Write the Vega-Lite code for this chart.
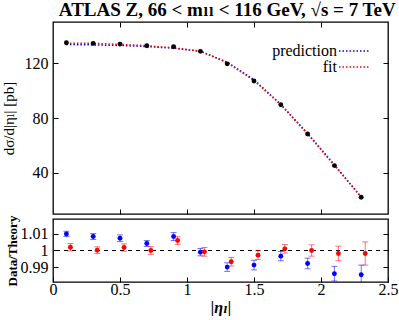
{
  "$schema": "https://vega.github.io/schema/vega-lite/v6.json",
  "padding": {"left": 0, "top": 0, "right": 0, "bottom": 0},
  "background": "white",
  "title": {"text": "ATLAS Z, 66 < mₗₗ < 116 GeV, √s = 7 TeV", "font": "Liberation Serif, DejaVu Serif, serif", "fontWeight": "bold", "fontSize": 19, "color": "black", "anchor": "end", "dx": -3, "offset": 1},
  "spacing": 5,
  "bounds": "flush",
  "resolve": {"scale": {"color": "independent"}, "legend": {"color": "independent"}},
  "config": {
    "view": {"stroke": "black", "strokeWidth": 1.3},
    "axis": {"grid": false, "domain": false, "tickColor": "black", "tickSize": -5, "tickWidth": 1, "labelFont": "Liberation Serif", "labelFontSize": 16, "labelColor": "black", "titleFont": "Liberation Serif", "titleColor": "black", "labelPadding": 10, "minExtent": 0, "labelFlush": false}
  },
  "datasets": {
    "xsec": [
      {"eta": 0.1, "xsec": 134.9}, {"eta": 0.3, "xsec": 134.4}, {"eta": 0.5, "xsec": 133.9}, {"eta": 0.7, "xsec": 132.7},
      {"eta": 0.9, "xsec": 132.0}, {"eta": 1.1, "xsec": 128.6}, {"eta": 1.3, "xsec": 119.5}, {"eta": 1.5, "xsec": 107.0},
      {"eta": 1.7, "xsec": 89.7}, {"eta": 1.9, "xsec": 68.3}, {"eta": 2.1, "xsec": 45.3}, {"eta": 2.3, "xsec": 22.2}
    ],
    "theory": [
      {"eta": 0.1, "value": 133.6, "series": "prediction"}, {"eta": 0.3, "value": 133.3, "series": "prediction"},
      {"eta": 0.5, "value": 132.9, "series": "prediction"}, {"eta": 0.7, "value": 132.1, "series": "prediction"},
      {"eta": 0.9, "value": 130.9, "series": "prediction"}, {"eta": 1.1, "value": 128.7, "series": "prediction"},
      {"eta": 1.3, "value": 120.7, "series": "prediction"}, {"eta": 1.5, "value": 107.9, "series": "prediction"},
      {"eta": 1.7, "value": 90.0, "series": "prediction"}, {"eta": 1.9, "value": 68.8, "series": "prediction"},
      {"eta": 2.1, "value": 45.9, "series": "prediction"}, {"eta": 2.3, "value": 22.5, "series": "prediction"},
      {"eta": 0.1, "value": 134.6, "series": "fit"}, {"eta": 0.3, "value": 134.4, "series": "fit"},
      {"eta": 0.5, "value": 133.7, "series": "fit"}, {"eta": 0.7, "value": 132.7, "series": "fit"},
      {"eta": 0.9, "value": 131.2, "series": "fit"}, {"eta": 1.1, "value": 128.7, "series": "fit"},
      {"eta": 1.3, "value": 120.3, "series": "fit"}, {"eta": 1.5, "value": 107.3, "series": "fit"},
      {"eta": 1.7, "value": 89.6, "series": "fit"}, {"eta": 1.9, "value": 68.3, "series": "fit"},
      {"eta": 2.1, "value": 45.4, "series": "fit"}, {"eta": 2.3, "value": 22.2, "series": "fit"}
    ],
    "ratio": [
      {"eta": 0.1, "ratio": 1.0100, "lo": 1.0084, "hi": 1.0116, "series": "prediction"},
      {"eta": 0.3, "ratio": 1.0084, "lo": 1.0066, "hi": 1.0102, "series": "prediction"},
      {"eta": 0.5, "ratio": 1.0074, "lo": 1.0054, "hi": 1.0094, "series": "prediction"},
      {"eta": 0.7, "ratio": 1.0042, "lo": 1.0024, "hi": 1.0060, "series": "prediction"},
      {"eta": 0.9, "ratio": 1.0084, "lo": 1.0060, "hi": 1.0108, "series": "prediction"},
      {"eta": 1.1, "ratio": 0.9990, "lo": 0.9968, "hi": 1.0012, "series": "prediction"},
      {"eta": 1.3, "ratio": 0.9900, "lo": 0.9874, "hi": 0.9926, "series": "prediction"},
      {"eta": 1.5, "ratio": 0.9912, "lo": 0.9883, "hi": 0.9941, "series": "prediction"},
      {"eta": 1.7, "ratio": 0.9966, "lo": 0.9938, "hi": 0.9994, "series": "prediction"},
      {"eta": 1.9, "ratio": 0.9922, "lo": 0.9890, "hi": 0.9954, "series": "prediction"},
      {"eta": 2.1, "ratio": 0.9860, "lo": 0.9816, "hi": 0.9904, "series": "prediction"},
      {"eta": 2.3, "ratio": 0.9854, "lo": 0.9796, "hi": 0.9912, "series": "prediction"},
      {"eta": 0.13, "ratio": 1.0020, "lo": 0.9998, "hi": 1.0042, "series": "fit"},
      {"eta": 0.33, "ratio": 1.0002, "lo": 0.9982, "hi": 1.0022, "series": "fit"},
      {"eta": 0.53, "ratio": 1.0018, "lo": 0.9996, "hi": 1.0040, "series": "fit"},
      {"eta": 0.73, "ratio": 1.0000, "lo": 0.9977, "hi": 1.0023, "series": "fit"},
      {"eta": 0.93, "ratio": 1.0060, "lo": 1.0037, "hi": 1.0083, "series": "fit"},
      {"eta": 1.13, "ratio": 0.9992, "lo": 0.9966, "hi": 1.0018, "series": "fit"},
      {"eta": 1.33, "ratio": 0.9932, "lo": 0.9906, "hi": 0.9958, "series": "fit"},
      {"eta": 1.53, "ratio": 0.9972, "lo": 0.9945, "hi": 0.9999, "series": "fit"},
      {"eta": 1.73, "ratio": 1.0010, "lo": 0.9984, "hi": 1.0036, "series": "fit"},
      {"eta": 1.93, "ratio": 1.0000, "lo": 0.9966, "hi": 1.0034, "series": "fit"},
      {"eta": 2.13, "ratio": 0.9982, "lo": 0.9938, "hi": 1.0026, "series": "fit"},
      {"eta": 2.33, "ratio": 0.9982, "lo": 0.9912, "hi": 1.0052, "series": "fit"}
    ]
  },
  "vconcat": [
    {
      "width": 335, "height": 192,
      "layer": [
        {
          "data": {"name": "theory"},
          "mark": {"type": "line", "strokeDash": [1.5, 2], "strokeWidth": 1.5, "clip": true},
          "encoding": {
            "x": {"field": "eta", "type": "quantitative", "scale": {"domain": [0, 2.5], "nice": false},
                  "axis": {"orient": "bottom", "labels": false, "labelPadding": 0, "title": null, "values": [0.5, 1, 1.5, 2]}},
            "y": {"field": "value", "type": "quantitative", "scale": {"domain": [10, 150], "nice": false, "zero": false},
                  "axis": {"orient": "left", "values": [40, 80, 120], "labelFont": "Liberation Serif, DejaVu Serif, serif", "labelFontSize": 16, "titleFont": "Liberation Serif, DejaVu Serif, serif", "title": "dσ/d|ηₗ| [pb]", "titleFontSize": 15, "titleFontWeight": "normal", "titlePadding": 8}},
            "color": {"field": "series", "type": "nominal", "scale": {"domain": ["prediction", "fit"], "range": ["#0000ff", "#ff0000"]},
                      "legend": {"orient": "none", "legendX": 293, "legendY": 21, "title": null, "symbolType": "M-5,0H5", "symbolSize": 36, "symbolDash": [1.5, 2], "symbolStrokeWidth": 1.5, "labelAlign": "right", "labelOffset": -25, "labelFont": "Liberation Serif, DejaVu Serif, serif", "labelFontSize": 16, "labelColor": "black", "rowPadding": 0, "padding": 0}}
          }
        },
        {
          "data": {"name": "xsec"},
          "mark": {"type": "circle", "size": 24, "color": "black", "opacity": 1},
          "encoding": {
            "x": {"field": "eta", "type": "quantitative", "axis": {"orient": "top", "labels": false, "labelPadding": 0, "title": null, "values": [0.5, 1, 1.5, 2]}},
            "y": {"field": "xsec", "type": "quantitative", "axis": {"orient": "right", "labels": false, "labelPadding": 0, "title": null, "values": [40, 80, 120]}}
          }
        }
      ],
      "resolve": {"axis": {"x": "independent", "y": "independent"}}
    },
    {
      "width": 335, "height": 63,
      "layer": [
        {
          "data": {"values": [{}]},
          "mark": {"type": "rule", "strokeDash": [4, 4], "color": "black", "strokeWidth": 1},
          "encoding": {"y": {"datum": 1, "type": "quantitative", "axis": null}}
        },
        {
          "data": {"name": "ratio"},
          "mark": {"type": "errorbar", "clip": true, "rule": {"opacity": 0.55}, "ticks": {"size": 6, "opacity": 0.55}},
          "encoding": {
            "x": {"field": "eta", "type": "quantitative", "scale": {"domain": [0, 2.5], "nice": false},
                  "axis": {"orient": "bottom", "values": [0, 0.5, 1, 1.5, 2, 2.5], "format": "~g", "labelPadding": 4, "labelFont": "Liberation Serif, DejaVu Serif, serif", "labelFontSize": 16, "titleFont": "Liberation Serif, DejaVu Serif, serif", "title": "|ηₗ|", "titleFontSize": 16, "titleFontWeight": "bold", "titleFontStyle": "italic", "titlePadding": 0, "titleY": 25, "titleBaseline": "middle"}},
            "y": {"field": "lo", "type": "quantitative", "scale": {"domain": [0.981, 1.019], "nice": false, "zero": false},
                  "axis": {"orient": "left", "values": [0.99, 1, 1.01], "format": "~g", "labelFont": "Liberation Serif, DejaVu Serif, serif", "labelFontSize": 16, "titleFont": "Liberation Serif, DejaVu Serif, serif", "title": "Data/Theory", "titleFontSize": 13, "titleFontWeight": "bold", "titlePadding": 1}},
            "y2": {"field": "hi"},
            "color": {"field": "series", "type": "nominal", "scale": {"domain": ["prediction", "fit"], "range": ["#0000ff", "#ff0000"]}, "legend": null}
          }
        },
        {
          "data": {"name": "ratio"},
          "mark": {"type": "circle", "size": 24, "opacity": 1, "clip": true},
          "encoding": {
            "x": {"field": "eta", "type": "quantitative", "axis": null},
            "y": {"field": "ratio", "type": "quantitative", "axis": {"orient": "right", "labels": false, "labelPadding": 0, "title": null, "values": [0.99, 1, 1.01]}},
            "color": {"field": "series", "type": "nominal", "legend": null}
          }
        }
      ],
      "resolve": {"axis": {"x": "independent", "y": "independent"}}
    }
  ]
}
